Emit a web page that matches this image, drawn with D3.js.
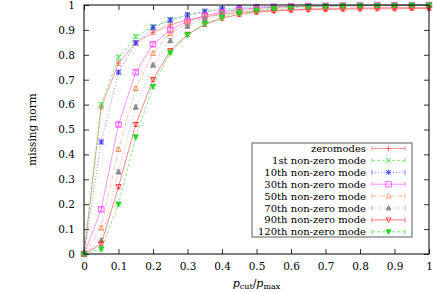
<!DOCTYPE html>
<html>
<head>
<meta charset="utf-8">
<script src="https://cdn.jsdelivr.net/npm/d3@7"></script>
<style>
  body { margin: 0; background: #fff; }
  text { font-family: "DejaVu Serif", serif; }
</style>
</head>
<body>
<script>
const margin = { top: 5, right: 7, bottom: 38, left: 84 };
const width = 436 - margin.left - margin.right;
const height = 292 - margin.top - margin.bottom;

// cut ratio values (x)
const cutRatio = [0, 0.05, 0.1, 0.15, 0.2, 0.25, 0.3, 0.35, 0.4, 0.45, 0.5,
    0.55, 0.6, 0.65, 0.7, 0.75, 0.8, 0.85, 0.9, 0.95, 1];

const zeromodes = [0, 0.59, 0.766, 0.848, 0.89, 0.92, 0.94, 0.953, 0.963, 0.97, 0.975,
    0.979, 0.982, 0.984, 0.986, 0.987, 0.988, 0.989, 0.99, 0.99, 0.99];
const mode1 = [0, 0.60, 0.79, 0.873, 0.913, 0.94, 0.96, 0.972, 0.98, 0.986, 0.99,
    0.992, 0.994, 0.995, 0.996, 0.997, 0.997, 0.998, 0.998, 0.998, 0.999];
const mode10 = [0, 0.45, 0.73, 0.848, 0.91, 0.94, 0.96, 0.975, 0.985, 0.99, 0.993,
    0.995, 0.996, 0.997, 0.998, 0.998, 0.999, 0.999, 0.999, 0.999, 1.0];
const mode30 = [0, 0.18, 0.52, 0.73, 0.842, 0.90, 0.935, 0.958, 0.972, 0.982, 0.988,
    0.992, 0.994, 0.996, 0.997, 0.998, 0.998, 0.999, 0.999, 0.999, 1.0];
const mode50 = [0, 0.105, 0.42, 0.665, 0.806, 0.886, 0.926, 0.952, 0.968, 0.978, 0.985,
    0.99, 0.993, 0.995, 0.996, 0.997, 0.998, 0.998, 0.999, 0.999, 1.0];
const mode70 = [0, 0.055, 0.33, 0.59, 0.759, 0.857, 0.915, 0.945, 0.963, 0.975, 0.983,
    0.988, 0.992, 0.994, 0.996, 0.997, 0.998, 0.998, 0.999, 0.999, 0.999];
const mode90 = [0, 0.04, 0.27, 0.52, 0.70, 0.816, 0.882, 0.922, 0.947, 0.962, 0.971,
    0.976, 0.979, 0.981, 0.982, 0.983, 0.984, 0.985, 0.985, 0.986, 0.986];
const mode120 = [0, 0.02, 0.20, 0.47, 0.672, 0.808, 0.88, 0.925, 0.95, 0.968, 0.978,
    0.985, 0.99, 0.993, 0.995, 0.996, 0.997, 0.998, 0.998, 0.999, 0.999];
const errSize = 0.008;

const seriesNames = ["zeromodes", "1st non-zero mode", "10th non-zero mode", "30th non-zero mode",
    "50th non-zero mode", "70th non-zero mode", "90th non-zero mode", "120th non-zero mode"];
const seriesValues = [zeromodes, mode1, mode10, mode30, mode50, mode70, mode90, mode120];

const xTicks = [0, 0.1, 0.2, 0.3, 0.4, 0.5, 0.6, 0.7, 0.8, 0.9, 1];
const yTicks = [0, 0.1, 0.2, 0.3, 0.4, 0.5, 0.6, 0.7, 0.8, 0.9, 1];

// line / point styles, one per series
const styles = [
    { color: "#ff5050", dash: null, marker: "plus" },
    { color: "#30e030", dash: "3,2", marker: "cross" },
    { color: "#3030ff", dash: "1,2", marker: "star" },
    { color: "#ff40ff", dash: null, marker: "square" },
    { color: "#ff8850", dash: "4,2,1,2", marker: "triangle" },
    { color: "#888888", dash: "1,2", marker: "triangleFilled" },
    { color: "#ff2828", dash: null, marker: "triangleDown" },
    { color: "#20d820", dash: "3,2", marker: "triangleDownFilled" }
];

const svg = d3.select("body")
    .append("svg")
    .attr("width", 436)
    .attr("height", 292)
    .append("g")
    .attr("transform", `translate(${margin.left},${margin.top})`);

const x = d3.scaleLinear().domain([0, 1]).range([0, width]);
const y = d3.scaleLinear().domain([0, 1]).range([height, 0]);

// axes, ticks pointing inward, mirrored
const styleAxis = g => {
    g.select(".domain").remove();
    g.selectAll("line").attr("stroke", "#000").attr("stroke-width", 0.8);
    g.selectAll("text").attr("font-family", "DejaVu Serif").attr("font-size", 10.5).attr("fill", "#000");
};
svg.append("g")
    .attr("transform", `translate(0,${height})`)
    .call(d3.axisBottom(x).tickValues(xTicks).tickSize(-5).tickPadding(9).tickFormat(d3.format("")))
    .call(styleAxis);
svg.append("g")
    .call(d3.axisLeft(y).tickValues(yTicks).tickSize(-5).tickPadding(9).tickFormat(d3.format("")))
    .call(styleAxis);
svg.append("g")
    .call(d3.axisTop(x).tickValues(xTicks).tickSize(-5).tickFormat(""))
    .call(styleAxis);
svg.append("g")
    .attr("transform", `translate(${width},0)`)
    .call(d3.axisRight(y).tickValues(yTicks).tickSize(-5).tickFormat(""))
    .call(styleAxis);

const markerPath = (type, size) => {
    const s = size;
    switch (type) {
        case "plus": return `M${-s},0H${s}M0,${-s}V${s}`;
        case "cross": return `M${-s},${-s}L${s},${s}M${-s},${s}L${s},${-s}`;
        case "star": return `M${-s},0H${s}M0,${-s}V${s}M${-s},${-s}L${s},${s}M${-s},${s}L${s},${-s}`;
        case "square": return `M${-s},${-s}H${s}V${s}H${-s}Z`;
        case "triangle":
        case "triangleFilled": return `M0,${-s}L${s},${s * 0.8}H${-s}Z`;
        default: return `M0,${s}L${s},${-s * 0.8}H${-s}Z`;
    }
};

const line = d3.line()
    .x(d => x(d[0]))
    .y(d => y(d[1]));

seriesValues.forEach((vals, i) => {
    const st = styles[i];
    const pts = cutRatio.map((c, j) => [c, vals[j]]);
    const g = svg.append("g");
    g.append("path")
        .datum(pts)
        .attr("fill", "none")
        .attr("stroke", st.color)
        .attr("stroke-width", 0.55)
        .attr("stroke-dasharray", st.dash)
        .attr("d", line);
    // error bars
    g.selectAll(".err")
        .data(pts)
        .join("path")
        .attr("fill", "none")
        .attr("stroke", st.color)
        .attr("stroke-width", 0.6)
        .attr("d", d => {
            const px = x(d[0]), y0 = y(d[1] - errSize), y1 = y(d[1] + errSize);
            return `M${px},${y0}V${y1}M${px - 2.5},${y0}H${px + 2.5}M${px - 2.5},${y1}H${px + 2.5}`;
        });
    g.selectAll(".pt")
        .data(pts)
        .join("path")
        .attr("transform", d => `translate(${x(d[0])},${y(d[1])})`)
        .attr("d", markerPath(st.marker, st.marker === "square" ? 2.8 : 2.6))
        .attr("fill", st.marker.endsWith("Filled") ? st.color : "none")
        .attr("stroke", st.color)
        .attr("stroke-width", 0.8);
});

// frame
svg.append("rect")
    .attr("width", width)
    .attr("height", height)
    .attr("fill", "none")
    .attr("stroke", "#000")
    .attr("stroke-width", 1);

// legend
const legend = svg.append("g").attr("transform", `translate(${252 - margin.left},${143 - margin.top})`);
legend.append("rect")
    .attr("width", 160)
    .attr("height", 94)
    .attr("fill", "#fff")
    .attr("stroke", "#333")
    .attr("stroke-width", 0.8);
seriesNames.forEach((name, i) => {
    const st = styles[i];
    const ly = 5.5 + i * 11.9;
    legend.append("text")
        .attr("x", 114)
        .attr("y", ly + 3.5)
        .attr("text-anchor", "end")
        .attr("font-size", 10)
        .text(name);
    legend.append("path")
        .attr("stroke", st.color)
        .attr("stroke-width", 0.6)
        .attr("stroke-dasharray", st.dash)
        .attr("d", `M120,${ly}H153`);
    legend.append("path")
        .attr("stroke", st.color)
        .attr("stroke-width", 0.6)
        .attr("d", `M120,${ly - 2.5}V${ly + 2.5}M153,${ly - 2.5}V${ly + 2.5}`);
    legend.append("path")
        .attr("transform", `translate(136.5,${ly})`)
        .attr("d", markerPath(st.marker, st.marker === "square" ? 2.8 : 2.5))
        .attr("fill", st.marker.endsWith("Filled") ? st.color : "none")
        .attr("stroke", st.color)
        .attr("stroke-width", 0.8);
});

// axis labels
svg.append("text")
    .attr("transform", `translate(-48,${height / 2}) rotate(-90)`)
    .attr("text-anchor", "middle")
    .attr("font-size", 10.5)
    .text("missing norm");

const xl = svg.append("text")
    .attr("x", width / 2)
    .attr("y", height + 33)
    .attr("text-anchor", "middle")
    .attr("font-size", 11);
xl.append("tspan").attr("font-style", "italic").text("p");
xl.append("tspan").attr("font-size", 8).attr("dy", 2).text("cut");
xl.append("tspan").attr("dy", -2).text("/");
xl.append("tspan").attr("font-style", "italic").text("p");
xl.append("tspan").attr("font-size", 8).attr("dy", 2).text("max");
</script>
</body>
</html>
